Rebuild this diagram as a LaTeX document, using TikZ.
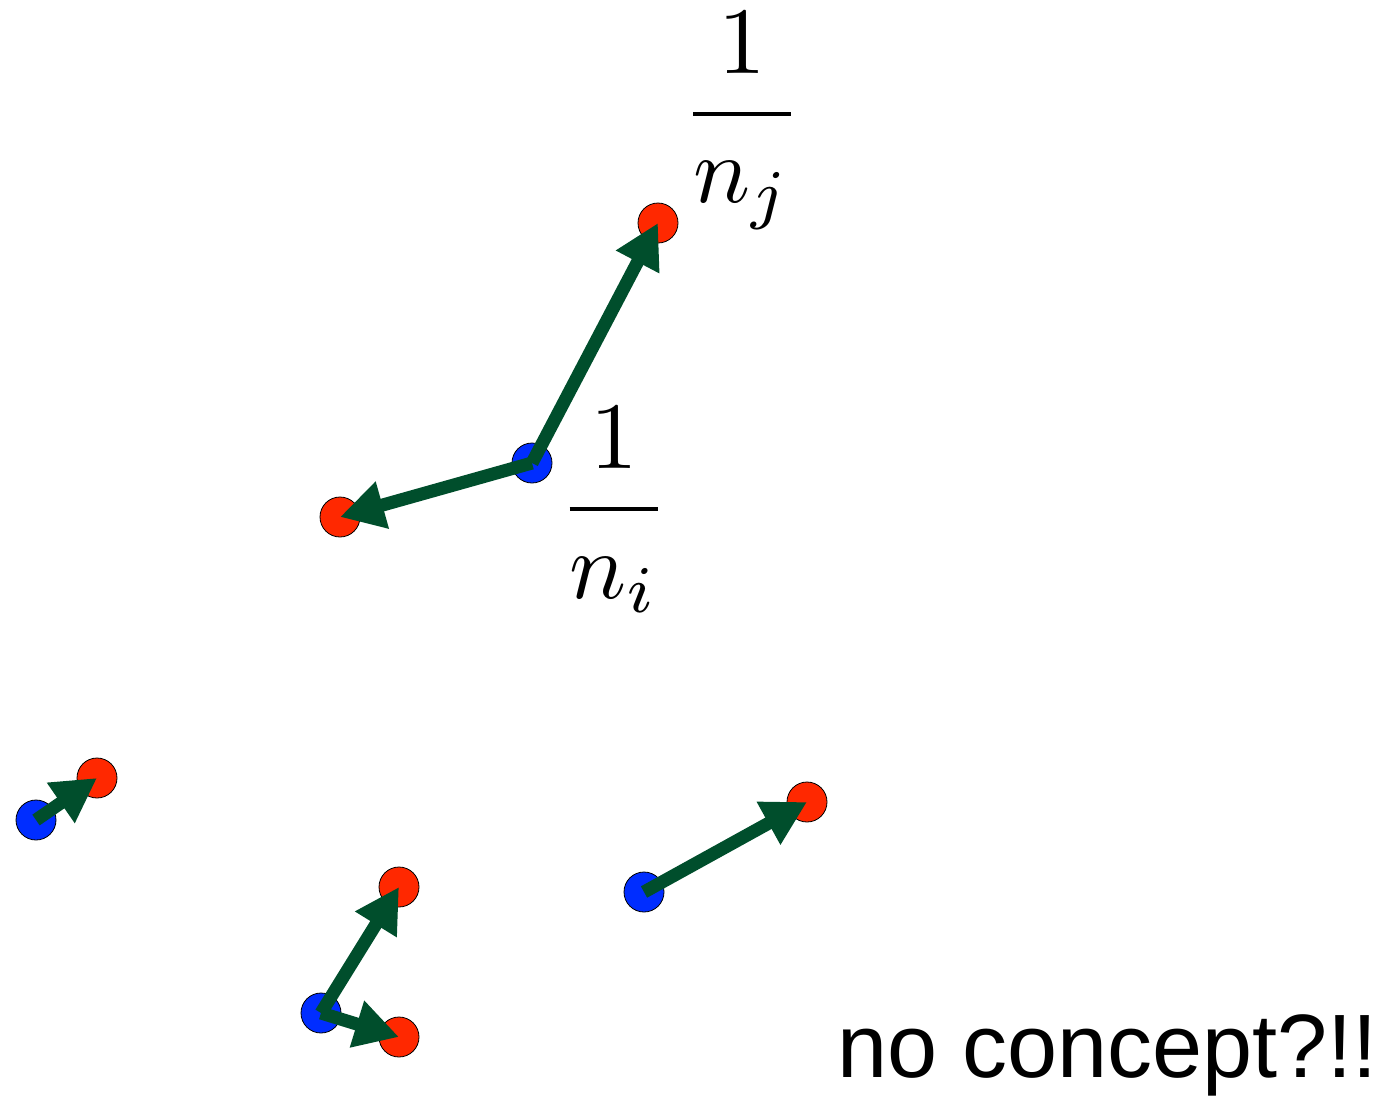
\documentclass[tikz,border=0pt]{standalone}
\usepackage{amsmath}
\usepackage{fontspec}
\newfontfamily\capfont{Liberation Sans}
\usetikzlibrary{arrows.meta}

\definecolor{dotred}{RGB}{255,40,0}
\definecolor{dotblue}{RGB}{0,45,255}
\definecolor{arrowgreen}{RGB}{0,78,44}

\tikzset{
  reddot/.style={circle,draw=black,line width=0.8pt,fill=dotred,minimum size=40pt,inner sep=0pt},
  bluedot/.style={circle,draw=black,line width=0.8pt,fill=dotblue,minimum size=40pt,inner sep=0pt},
  push/.style={draw=arrowgreen,line width=13pt,-{Triangle[length=44pt,width=46pt]}}
}

\begin{document}
\begin{tikzpicture}[x=1pt,y=-1pt]
\useasboundingbox (0,0) rectangle (1384,1096);

% first group
\node[bluedot] (b1) at (532,463) {};
\node[reddot] (r1) at (658,223) {};
\node[reddot] (r2) at (340,517) {};

% the other groups
\node[bluedot] (b2) at (36,820) {};
\node[reddot] (r3) at (97,778) {};
\node[bluedot] (b3) at (321,1013) {};
\node[reddot] (r4) at (399,887) {};
\node[reddot] (r5) at (399,1037) {};
\node[bluedot] (b4) at (644,892) {};
\node[reddot] (r6) at (807,802) {};

\draw[push] (b1.center) -- (r1.center);
\draw[push] (b1.center) -- (r2.center);
\draw[push] (b2.center) -- (r3.center);
\draw[push] (b3.center) -- (r4.center);
\draw[push] (b3.center) -- (r5.center);
\draw[push] (b4.center) -- (r6.center);

\node[inner sep=0pt] (fracj) at (742,121) {\scalebox{9.5}{$\dfrac{1}{n_j}$}};
\node[inner sep=0pt] (fraci) at (614,510) {\scalebox{9.5}{$\dfrac{1}{n_i}$}};

\node[inner sep=0pt,anchor=base west] (caption) at (837,1077) {\capfont\fontsize{90}{100}\selectfont no concept?!!};
\end{tikzpicture}
\end{document}
